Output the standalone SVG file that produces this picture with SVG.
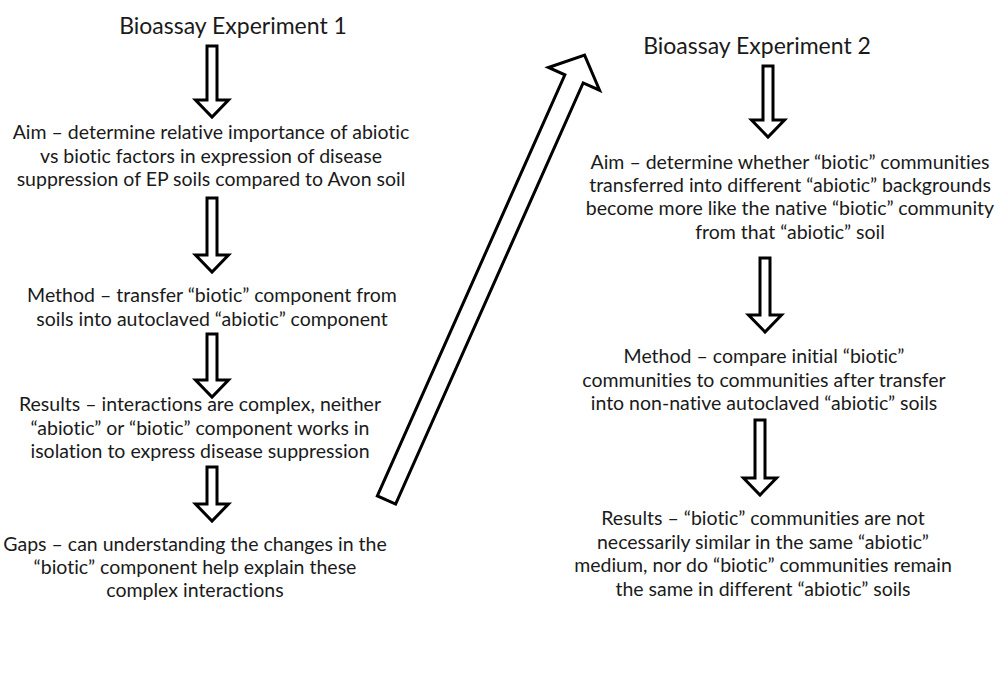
<svg xmlns="http://www.w3.org/2000/svg" width="1006" height="684" viewBox="0 0 1006 684">
  <style>
    .t, .h { font-family: Lato, "Liberation Sans", sans-serif; fill: #1a1a1a; text-anchor: middle; font-variant-ligatures: none; font-feature-settings: "liga" 0, "dlig" 0; }
    .t { font-size: 19.5px; }
    .h { font-size: 23px; }
    .arr { fill: #ffffff; stroke: #000000; stroke-width: 3; stroke-linejoin: miter; }
  </style>
  <rect width="1006" height="684" fill="#ffffff"/>

  <!-- Experiment 1 column -->
  <g id="exp1-title">
    <text class="h" x="233" y="34">Bioassay Experiment 1</text>
  </g>
  <g id="exp1-aim">
    <text class="t" x="211" y="139">Aim – determine relative importance of abiotic</text>
    <text class="t" x="211" y="163">vs biotic factors in expression of disease</text>
    <text class="t" x="211" y="186">suppression of EP soils compared to Avon soil</text>
  </g>
  <g id="exp1-method">
    <text class="t" x="212" y="302">Method – transfer “biotic” component from</text>
    <text class="t" x="212" y="326">soils into autoclaved “abiotic” component</text>
  </g>
  <g id="exp1-results">
    <text class="t" x="200" y="411">Results – interactions are complex, neither</text>
    <text class="t" x="200" y="435">“abiotic” or “biotic” component works in</text>
    <text class="t" x="200" y="458">isolation to express disease suppression</text>
  </g>
  <g id="exp1-gaps">
    <text class="t" x="195" y="551">Gaps – can understanding the changes in the</text>
    <text class="t" x="195" y="574">“biotic” component help explain these</text>
    <text class="t" x="195" y="597">complex interactions</text>
  </g>

  <!-- Experiment 2 column -->
  <g id="exp2-title">
    <text class="h" x="757" y="54">Bioassay Experiment 2</text>
  </g>
  <g id="exp2-aim">
    <text class="t" x="790" y="169">Aim – determine whether “biotic” communities</text>
    <text class="t" x="790" y="192">transferred into different “abiotic” backgrounds</text>
    <text class="t" x="790" y="215">become more like the native “biotic” community</text>
    <text class="t" x="790" y="239">from that “abiotic” soil</text>
  </g>
  <g id="exp2-method">
    <text class="t" x="764" y="363">Method – compare initial “biotic”</text>
    <text class="t" x="764" y="387">communities to communities after transfer</text>
    <text class="t" x="764" y="410">into non-native autoclaved “abiotic” soils</text>
  </g>
  <g id="exp2-results">
    <text class="t" x="763" y="525">Results – “biotic” communities are not</text>
    <text class="t" x="763" y="549">necessarily similar in the same “abiotic”</text>
    <text class="t" x="763" y="572">medium, nor do “biotic” communities remain</text>
    <text class="t" x="763" y="596">the same in different “abiotic” soils</text>
  </g>

  <!-- Block arrows between steps -->
  <g id="connectors">
    <polygon class="arr" points="207,46 217,46 217,100 228.5,100 212,117 195.5,100 207,100"/>
    <polygon class="arr" points="207,198 217,198 217,255 228.5,255 212,272 195.5,255 207,255"/>
    <polygon class="arr" points="207,334 217,334 217,380 228.5,380 212,397 195.5,380 207,380"/>
    <polygon class="arr" points="207,467 217,467 217,504 228.5,504 212,521 195.5,504 207,504"/>

    <polygon class="arr" points="763,66 773,66 773,120 784.5,120 768,137 751.5,120 763,120"/>
    <polygon class="arr" points="760,258 770,258 770,315 781.5,315 765,332 748.5,315 760,315"/>
    <polygon class="arr" points="755,420 765,420 765,478 776.5,478 760,495 743.5,478 755,478"/>

    <!-- long arrow from Gaps up to Experiment 2 -->
    <polygon class="arr" transform="translate(386.5,500) rotate(-66)" points="0,-10 461,-10 461,-28 487,0 461,28 461,10 0,10"/>
  </g>
</svg>
